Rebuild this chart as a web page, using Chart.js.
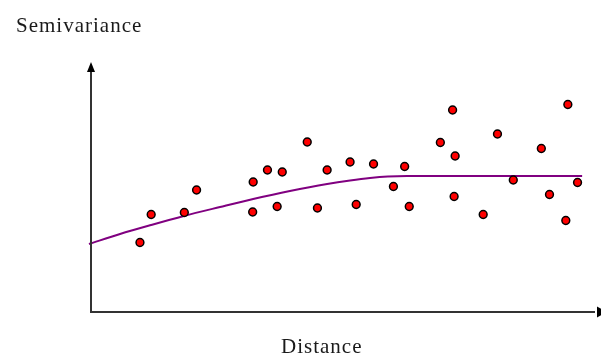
<!DOCTYPE html>
<html>
<head>
<meta charset="utf-8">
<script src="https://cdn.jsdelivr.net/npm/chart.js@4"></script>
<style>
  html, body { margin: 0; padding: 0; background: #fff; }
  #wrap { position: relative; width: 601px; height: 358px; }
  .lbl { position: absolute; font-family: "Liberation Serif", serif; font-size: 21px; line-height: 21px; letter-spacing: 1px; color: #1a1a1a; white-space: nowrap; }
</style>
</head>
<body>
<div id="wrap">
  <canvas id="semiChart" width="601" height="358"></canvas>
  <div class="lbl" style="left:16px; top:15px;">Semivariance</div>
  <div class="lbl" style="left:281px; top:336px;">Distance</div>
</div>
<script>
// observed semivariance (distance, value)
const lagX = [9.6, 11.8, 18.3, 20.7, 31.7, 31.8, 34.6, 37.5, 36.5, 42.4, 44.4, 46.3, 50.8, 52.0, 55.4,
              59.3, 61.5, 62.4, 68.5, 70.9, 71.4, 71.2, 76.9, 79.7, 82.8, 88.3, 89.9, 93.5, 93.1, 95.4];
const lagY = [13.9, 19.5, 19.9, 24.4, 20.0, 26.0, 28.4, 28.0, 21.1, 34.0, 20.8, 28.4, 30.0, 21.5, 29.6,
              25.1, 29.1, 21.1, 33.9, 40.4, 31.2, 23.1, 19.5, 35.6, 26.4, 32.7, 23.5, 41.5, 18.3, 25.9];

// fitted model curve
const modelX = [-0.4, 5.7, 11.8, 18.2, 25.3, 31.8, 39.0, 46.3, 50.8, 54.7, 58.2, 62.0, 96.3];
const modelY = [13.6, 15.6, 17.4, 19.2, 21.0, 22.6, 24.2, 25.6, 26.3, 26.8, 27.1, 27.2, 27.2];

const toPts = (xs, ys) => xs.map((x, i) => ({x: x, y: ys[i]}));

// axes with arrow heads
const arrowAxes = {
  id: 'arrowAxes',
  afterDraw(chart){
    const {ctx, chartArea: a} = chart;
    ctx.save();
    ctx.strokeStyle = '#333';
    ctx.lineWidth = 2;
    ctx.beginPath();
    ctx.moveTo(a.left, a.top + 6);
    ctx.lineTo(a.left, a.bottom);
    ctx.lineTo(a.right - 6, a.bottom);
    ctx.stroke();
    ctx.fillStyle = '#000';
    ctx.beginPath();
    ctx.moveTo(a.left, a.top);
    ctx.lineTo(a.left - 4, a.top + 10);
    ctx.lineTo(a.left + 4, a.top + 10);
    ctx.closePath();
    ctx.fill();
    ctx.beginPath();
    ctx.moveTo(a.right + 6, a.bottom);
    ctx.lineTo(a.right - 4, a.bottom - 5.5);
    ctx.lineTo(a.right - 4, a.bottom + 5.5);
    ctx.closePath();
    ctx.fill();
    ctx.restore();
  }
};

new Chart(document.getElementById('semiChart').getContext('2d'), {
  type: 'scatter',
  data: {
    datasets: [
      {
        label: 'Model',
        type: 'line',
        data: toPts(modelX, modelY),
        borderColor: '#800080',
        borderWidth: 2,
        pointRadius: 0,
        cubicInterpolationMode: 'monotone',
        fill: false,
        clip: false,
        order: 2
      },
      {
        label: 'Observed',
        data: toPts(lagX, lagY),
        backgroundColor: '#ff0000',
        borderColor: '#000',
        borderWidth: 1.5,
        pointRadius: 3.9,
        order: 1
      }
    ]
  },
  options: {
    responsive: false,
    animation: false,
    layout: { autoPadding: false, padding: { left: 91, right: 0, top: 62, bottom: 46 } },
    plugins: { legend: { display: false }, tooltip: { enabled: false } },
    scales: {
      x: { type: 'linear', min: 0, max: 100, display: false },
      y: { type: 'linear', min: 0, max: 50, display: false }
    }
  },
  plugins: [arrowAxes]
});
</script>
</body>
</html>
